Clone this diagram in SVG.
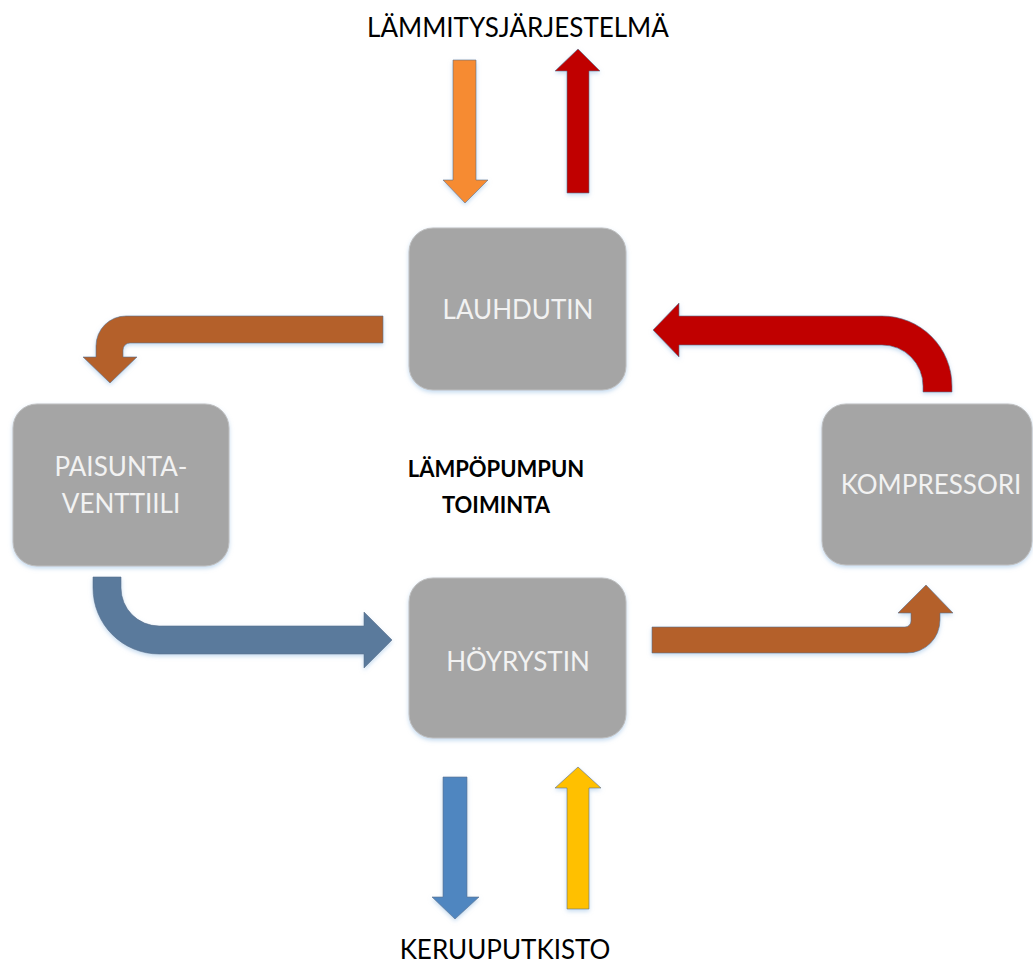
<svg xmlns="http://www.w3.org/2000/svg" width="1033" height="963" viewBox="0 0 1033 963">
<defs>
<filter id="glow" x="-10%" y="-10%" width="120%" height="130%">
<feDropShadow dx="0" dy="2" stdDeviation="2" flood-color="#9dc3e6" flood-opacity="0.6"/>
</filter>
<style>
.box{fill:#a5a5a5;stroke:#bfbfbf;stroke-width:1;filter:url(#glow)}
.nt{font-family:Lato,"Liberation Sans",sans-serif;font-size:26px;fill:#f2f2f2;text-anchor:middle}
.lbl{font-family:Lato,"Liberation Sans",sans-serif;font-size:26px;fill:#000;text-anchor:middle}
.ttl{font-family:Lato,"Liberation Sans",sans-serif;font-size:22px;font-weight:bold;fill:#000;text-anchor:middle}
.arr{stroke:#5b6f8a;stroke-opacity:0.6;stroke-width:1;filter:url(#glow)}
</style>
</defs>
<rect width="1033" height="963" fill="#ffffff"/>
<g id="connectors">
<path class="arr" fill="#f68b33" d="M453 60 L476 60 L476 180 L488 180 L465 203 L443 180 L453 180 Z"/>
<path class="arr" fill="#c00000" d="M567 193 L589 193 L589 71 L600 71 L578 49 L555 71 L567 71 Z"/>
<path class="arr" fill="#4f86c0" d="M443 777 L467 777 L467 897 L479 897 L455 919 L432 897 L443 897 Z"/>
<path class="arr" fill="#ffc000" d="M567 909 L589 909 L589 788 L601 788 L578 767 L555 788 L567 788 Z"/>
<path class="arr" fill="#b4612a" d="M383 316 L126 316 A30 30 0 0 0 96 346 L96 357 L83 357 L110 383 L137 357 L123 357 L123 350 A7 7 0 0 1 130 343 L383 343 Z"/>
<path class="arr" fill="#c00000" d="M653 330 L679 303 L679 316 L882 316 A70 70 0 0 1 952 386 L952 392 L923 392 L923 386 A41 41 0 0 0 882 345 L679 345 L679 357 Z"/>
<path class="arr" fill="#5a7a9c" d="M93 577 L121 577 L121 588 A38 38 0 0 0 159 626 L364 626 L364 612 L392 640 L364 668 L364 654 L159 654 A66 66 0 0 1 93 588 Z"/>
<path class="arr" fill="#b4612a" d="M652 627 L905 627 A6 6 0 0 0 911 621 L911 613 L898 613 L926 585 L953 613 L940 613 L940 620 A33 33 0 0 1 907 653 L652 653 Z"/>
</g>
<g id="lauhdutin">
<rect class="box" x="409" y="228" width="217" height="162" rx="24"/>
<text class="nt" x="518" y="319">LAUHDUTIN</text>
</g>
<g id="paisuntaventtiili">
<rect class="box" x="13" y="404" width="216" height="162" rx="24"/>
<text class="nt" x="121" y="476">PAISUNTA-</text>
<text class="nt" x="121" y="513">VENTTIILI</text>
</g>
<g id="kompressori">
<rect class="box" x="822" y="404" width="210" height="161" rx="24"/>
<text class="nt" x="931" y="494">KOMPRESSORI</text>
</g>
<g id="hoyrystin">
<rect class="box" x="409" y="578" width="217" height="160" rx="24"/>
<text class="nt" x="518" y="671">HÖYRYSTIN</text>
</g>
<g id="title">
<text class="ttl" x="496" y="477">LÄMPÖPUMPUN</text>
<text class="ttl" x="496" y="513">TOIMINTA</text>
</g>
<g id="labels">
<text class="lbl" x="518" y="37">LÄMMITYSJÄRJESTELMÄ</text>
<text class="lbl" x="505" y="959">KERUUPUTKISTO</text>
</g>
</svg>
